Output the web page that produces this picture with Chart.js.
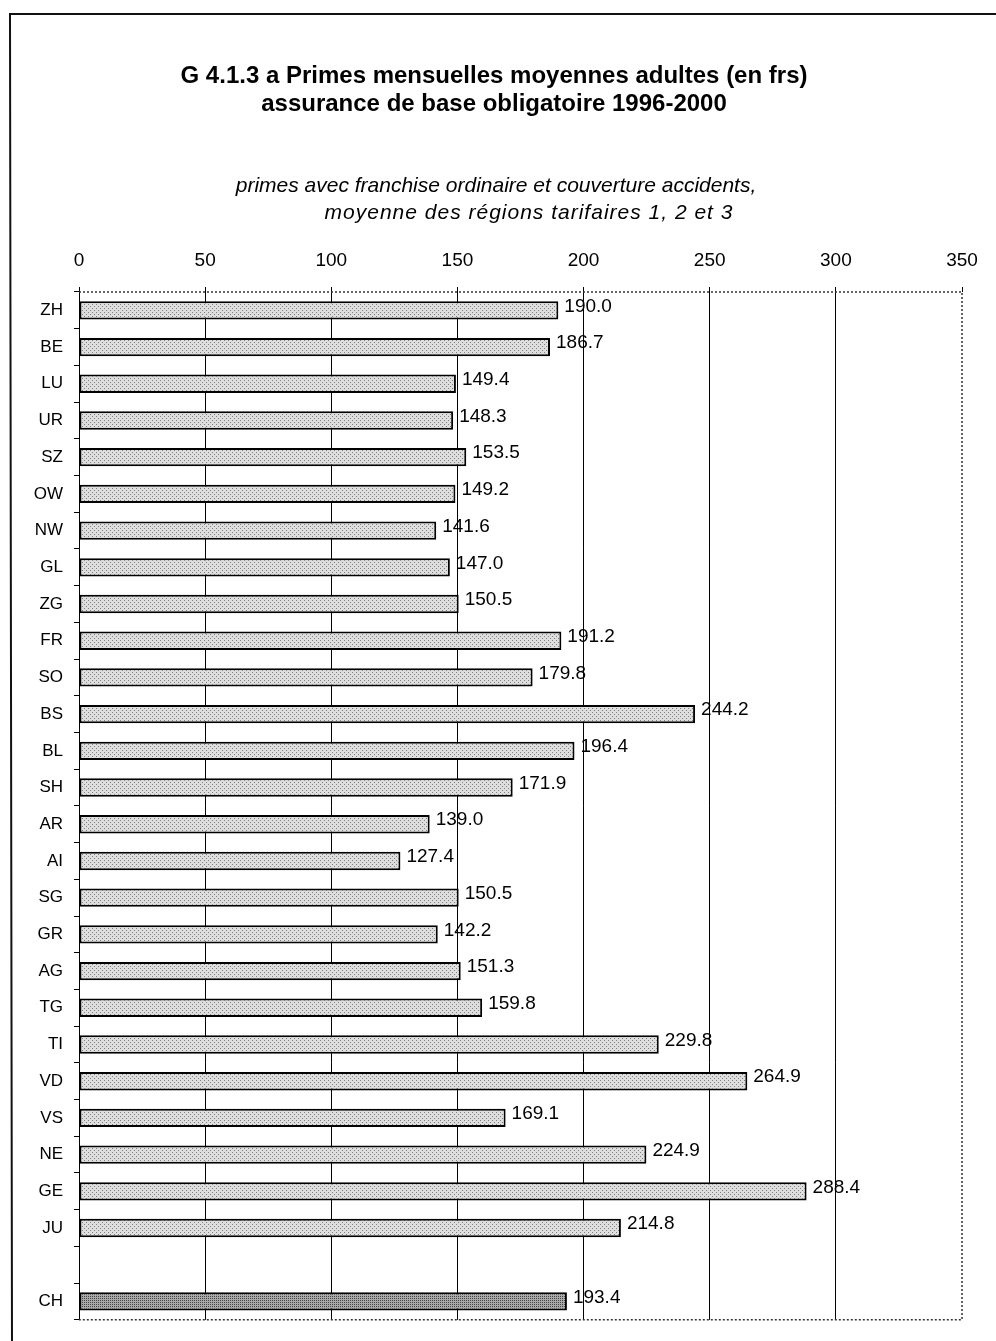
<!DOCTYPE html>
<html>
<head>
<meta charset="utf-8">
<script src="https://cdn.jsdelivr.net/npm/chart.js@4"></script>
<style>
  html, body { margin: 0; padding: 0; background: #fff; }
  #wrap { position: relative; width: 996px; height: 1341px; }
</style>
</head>
<body>
<div id="wrap"><canvas id="chart" width="996" height="1341"></canvas></div>
<script>
const cantons = ["ZH", "BE", "LU", "UR", "SZ", "OW", "NW", "GL", "ZG", "FR", "SO", "BS", "BL", "SH",
  "AR", "AI", "SG", "GR", "AG", "TG", "TI", "VD", "VS", "NE", "GE", "JU", "", "CH"];
const primes = [190.0, 186.7, 149.4, 148.3, 153.5, 149.2, 141.6, 147.0, 150.5, 191.2, 179.8, 244.2, 196.4, 171.9,
  139.0, 127.4, 150.5, 142.2, 151.3, 159.8, 229.8, 264.9, 169.1, 224.9, 288.4, 214.8, null, 193.4];
const xTicks = [0, 50, 100, 150, 200, 250, 300, 350];

const titleLines = ["G 4.1.3 a Primes mensuelles moyennes adultes (en frs)", "assurance de base obligatoire 1996-2000"];
const subtitleLines = ["primes avec franchise ordinaire et couverture accidents,", "moyenne des régions tarifaires 1, 2 et 3"];

const FONT = "'Liberation Sans', Arial, sans-serif";

// stipple pattern like the scanned print
function makePattern(bg, dot, dots) {
  const c = document.createElement("canvas");
  c.width = 4; c.height = 4;
  const g = c.getContext("2d");
  g.fillStyle = bg;
  g.fillRect(0, 0, 4, 4);
  g.fillStyle = dot;
  dots.forEach(([x, y]) => g.fillRect(x, y, 1, 1));
  const ctx = document.getElementById("chart").getContext("2d");
  return ctx.createPattern(c, "repeat");
}
const lightFill = makePattern("#dedede", "#808080", [[0, 0], [2, 2]]);
const darkFill = makePattern("#a8a8a8", "#474747", [[0, 0], [2, 2], [2, 0], [0, 2]]);

const framePlugin = {
  id: "frame",
  afterDraw(chart) {
    const { ctx, chartArea: a } = chart;
    ctx.save();
    // titles
    ctx.fillStyle = "#000";
    ctx.textAlign = "center";
    ctx.textBaseline = "middle";
    ctx.font = "bold 24px " + FONT;
    ctx.fillText(titleLines[0], 494, 76);
    ctx.fillText(titleLines[1], 494, 104);
    ctx.font = "italic 21px " + FONT;
    ctx.fillText(subtitleLines[0], 496, 186);
    ctx.letterSpacing = "1px";
    ctx.fillText(subtitleLines[1], 529, 213);
    ctx.letterSpacing = "0px";
    // page frame
    ctx.strokeStyle = "#111";
    ctx.lineWidth = 2;
    ctx.beginPath();
    ctx.moveTo(996, 14);
    ctx.lineTo(10, 14);
    ctx.lineTo(12, 1341);
    ctx.stroke();
    // dotted plot border on top, right and bottom
    ctx.lineWidth = 1.5;
    ctx.strokeStyle = "#333";
    ctx.setLineDash([2, 2]);
    ctx.beginPath();
    ctx.moveTo(a.left, a.top);
    ctx.lineTo(a.right, a.top);
    ctx.lineTo(a.right, a.bottom);
    ctx.lineTo(a.left, a.bottom);
    ctx.stroke();
    ctx.restore();
  },
  afterDatasetsDraw(chart) {
    const { ctx } = chart;
    const meta = chart.getDatasetMeta(0);
    ctx.save();
    ctx.fillStyle = "#000";
    ctx.font = "19px " + FONT;
    ctx.textAlign = "left";
    ctx.textBaseline = "middle";
    meta.data.forEach((bar, i) => {
      if (primes[i] == null) return;
      ctx.fillText(primes[i].toFixed(1), bar.x + 6, bar.y - 4);
    });
    ctx.restore();
  }
};

new Chart(document.getElementById("chart"), {
  type: "bar",
  data: {
    labels: cantons,
    datasets: [{
      data: primes,
      backgroundColor: cantons.map((c) => (c === "CH" ? darkFill : lightFill)),
      borderColor: "#000",
      borderWidth: 2,
      borderSkipped: false,
      barPercentage: 0.5,
      categoryPercentage: 1.0,
    }],
  },
  options: {
    indexAxis: "y",
    responsive: false,
    animation: false,
    layout: { padding: { top: 232, right: 34, bottom: 16, left: 0 } },
    plugins: {
      legend: { display: false },
      tooltip: { enabled: false },
    },
    scales: {
      x: {
        position: "top",
        min: 0,
        max: 350,
        afterBuildTicks: (s) => { s.ticks = xTicks.map((v) => ({ value: v })); },
        afterFit: (s) => { s.height = 60; },
        ticks: {
          color: "#000",
          font: { size: 19, family: FONT },
          padding: 15,
          maxRotation: 0,
        },
        grid: {
          color: (c) => (c.tick && c.tick.value === 350 ? "rgba(0,0,0,0)" : "#000"),
          lineWidth: 1,
          tickLength: 5,
          tickColor: "#000",
        },
        border: { display: false },
      },
      y: {
        afterFit: (s) => { s.width = 79; },
        ticks: {
          color: "#000",
          font: { size: 17, family: FONT },
          padding: 11,
        },
        grid: {
          offset: true,
          drawOnChartArea: false,
          tickLength: 5,
          tickColor: "#000",
        },
        border: { display: false },
      },
    },
  },
  plugins: [framePlugin],
});
</script>
</body>
</html>
